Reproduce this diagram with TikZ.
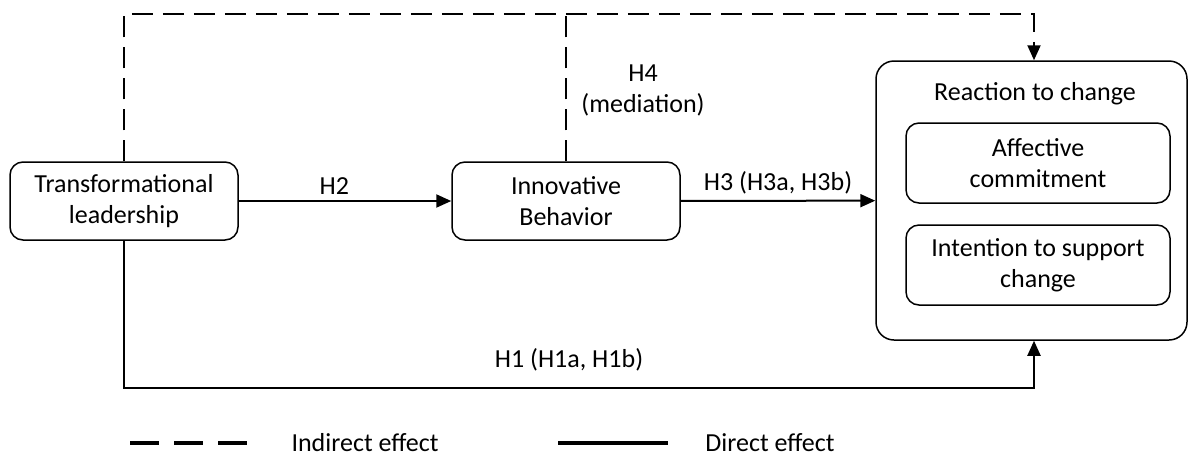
\documentclass[tikz,border=0pt]{standalone}
\usepackage{fontspec}
\setmainfont{Carlito}
\usetikzlibrary{arrows.meta}
\tikzstyle{var}=[draw,line width=1.5pt,rounded corners=13pt,align=center,minimum width=228pt,minimum height=78pt,inner sep=0pt]
\tikzstyle{eff}=[line width=2pt,-{Triangle[length=15pt,width=13pt]}]
\tikzstyle{ind}=[eff,dash pattern=on 21pt off 10pt]
\tikzstyle{legline}=[line width=3.5pt]
\begin{document}
\begin{tikzpicture}[x=1pt,y=-1pt,font=\fontsize{26}{31}\selectfont]
	\useasboundingbox (0,0) rectangle (1190,459);
	\node[var] (TL) at (124,201) {Transformational\\leadership};
	\node[var] (IB) at (566,201) {Innovative\\Behavior};
	\node[var,minimum width=311pt,minimum height=279pt,rounded corners=18pt] (RC) at (1031.5,200.5) {};
	\node (RClab) at (1035,94) {Reaction to change};
	\node[var,minimum width=264pt,minimum height=80pt] (AC) at (1038,163) {Affective\\commitment};
	\node[var,minimum width=264pt,minimum height=80pt] (IS) at (1038,265) {Intention to support\\change};
	\coordinate (top) at (1034,14);
	\coordinate (bot) at (1034,388);
	\draw[eff] (TL) --node[pos=.45,above=2pt]{H2} (IB);
	\draw[eff] (IB) --node[above=2pt]{H3 (H3a, H3b)} (RC);
	\draw[eff] (TL.south) |- (bot) -- (bot |- RC.south);
	\node (H1) at (569,360) {H1 (H1a, H1b)};
	\draw[ind] (TL.north) |- (top) -- (top |- RC.north);
	\draw[ind,-] (IB.north) -- (IB.north |- top);
	\node[align=center] (H4) at (643,90) {H4\\(mediation)};
	% legend
	\coordinate (d1) at (130,443);
	\coordinate (d2) at (249,443);
	\coordinate (s1) at (558,443);
	\coordinate (s2) at (668,443);
	\draw[legline,dash pattern=on 29pt off 15pt] (d1) -- (d2);
	\node (indlab) at (365,443) {Indirect effect};
	\draw[legline] (s1) -- (s2);
	\node (dirlab) at (770,443) {Direct effect};
\end{tikzpicture}
\end{document}
